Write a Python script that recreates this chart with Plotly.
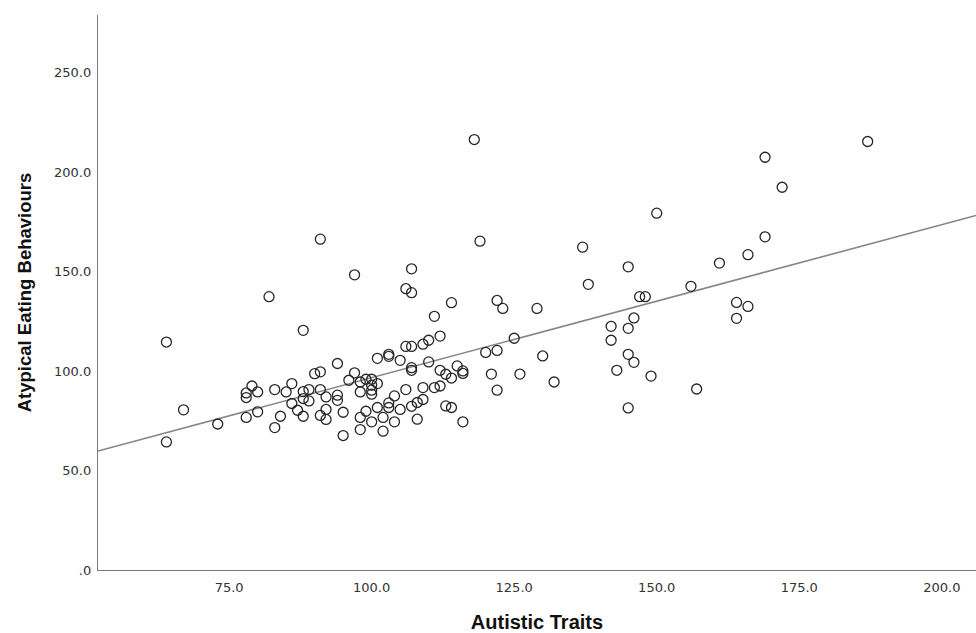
import plotly.graph_objects as go

autistic_traits = [
    64, 64, 67, 73, 78, 78, 78, 79, 80, 80, 82, 83, 83, 84, 85, 86, 86, 87, 88, 88,
    88, 88, 89, 89, 90, 91, 91, 92, 91, 92, 92, 91, 94, 94, 94, 95, 95, 96, 97, 97,
    98, 98, 98, 98, 99, 99, 100, 100, 100, 100, 100, 101, 101, 101, 102, 102, 103, 103, 103, 103,
    104, 104, 105, 105, 106, 106, 106, 107, 107, 107, 107, 107, 107, 108, 108, 109, 109, 109, 110, 110,
    111, 111, 112, 112, 112, 113, 113, 114, 114, 114, 115, 116, 116, 116, 118, 119, 120, 121, 122, 122,
    122, 123, 125, 126, 129, 130, 132, 137, 138, 142, 142, 143, 145, 145, 145, 145, 146, 146, 147, 148,
    149, 150, 156, 157, 161, 164, 164, 166, 166, 169, 169, 172, 187,
]
atypical_eating = [
    114.6, 64.4, 80.5, 73.4, 76.7, 86.7, 89.0, 92.5, 89.5, 79.5, 137.4, 90.7, 71.6, 77.3, 89.5, 93.7, 83.7, 80.3, 120.5, 89.7,
    86.2, 77.3, 90.7, 85.0, 98.7, 99.6, 90.7, 87.0, 77.7, 80.7, 75.7, 166.3, 103.8, 87.9, 85.3, 79.3, 67.6, 95.4, 99.1, 148.4,
    94.5, 89.5, 76.7, 70.6, 95.9, 79.8, 95.9, 92.9, 90.4, 88.4, 74.5, 106.4, 93.7, 81.7, 76.7, 69.8, 108.4, 107.4, 84.0, 81.7,
    87.5, 74.5, 105.4, 80.7, 112.4, 90.7, 141.4, 151.4, 139.4, 112.4, 101.7, 100.4, 82.3, 84.2, 75.8, 113.5, 91.7, 85.7, 115.5, 104.6,
    127.5, 91.7, 117.6, 100.4, 92.5, 98.4, 82.5, 134.4, 96.5, 81.7, 102.6, 100.1, 98.8, 74.5, 216.4, 165.3, 109.4, 98.5, 135.5, 110.4,
    90.4, 131.5, 116.5, 98.5, 131.5, 107.6, 94.5, 162.3, 143.6, 122.5, 115.5, 100.4, 152.4, 121.5, 108.4, 81.5, 126.7, 104.4, 137.4, 137.4,
    97.5, 179.4, 142.6, 91.0, 154.3, 134.5, 126.5, 158.5, 132.5, 207.5, 167.5, 192.4, 215.4,
]

x_ticks = [75, 100, 125, 150, 175, 200]
x_tick_labels = ["75.0", "100.0", "125.0", "150.0", "175.0", "200.0"]
y_ticks = [0, 50, 100, 150, 200, 250]
y_tick_labels = [".0", "50.0", "100.0", "150.0", "200.0", "250.0"]

x_range = [52, 206]
y_range = [0, 279]

fit_intercept = 19.8
fit_slope = 0.769
fit_x = list(x_range)
fit_y = [fit_intercept + fit_slope * v for v in fit_x]

fig = go.Figure()
fig.add_trace(go.Scatter(
    x=fit_x, y=fit_y, mode="lines",
    line=dict(color="#868686", width=1.6),
    hoverinfo="skip", showlegend=False,
))
fig.add_trace(go.Scatter(
    x=autistic_traits, y=atypical_eating, mode="markers",
    marker=dict(symbol="circle-open", size=10, color="#262626", line=dict(width=1.3, color="#262626")),
    showlegend=False,
))

tick_font = dict(family="DejaVu Sans", size=13, color="#333333")

fig.update_layout(
    width=976, height=633,
    margin=dict(l=98, r=0, t=15, b=63),
    paper_bgcolor="white", plot_bgcolor="white",
    showlegend=False,
)
fig.update_xaxes(
    range=x_range, tickvals=x_ticks, ticktext=x_tick_labels,
    showgrid=False, zeroline=False, showline=True, linecolor="#7a7a7a", linewidth=1.3,
    ticks="outside", ticklen=5, tickcolor="rgba(0,0,0,0)",
    tickfont=tick_font,
    title=dict(text="<b>Autistic Traits</b>",
               font=dict(family="Liberation Sans", size=20, color="#111111"), standoff=21),
)
fig.update_yaxes(
    range=y_range, tickvals=y_ticks, ticktext=y_tick_labels,
    showgrid=False, zeroline=False, showline=True, linecolor="#7a7a7a", linewidth=1.3,
    ticks="outside", ticklen=3, tickcolor="rgba(0,0,0,0)",
    tickfont=tick_font,
    title=dict(text="<b>Atypical Eating Behaviours</b>",
               font=dict(family="Liberation Sans", size=18.5, color="#111111"), standoff=17),
)

fig.write_html(
    "out.html",
    config={"displayModeBar": False},
    post_script="document.body.style.margin='0';document.body.style.overflow='hidden';",
)
